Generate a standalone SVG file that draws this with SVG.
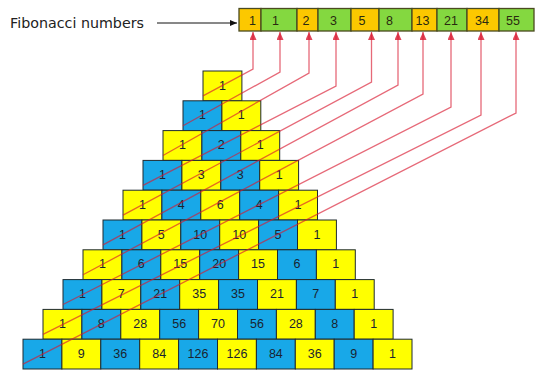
<svg xmlns="http://www.w3.org/2000/svg" width="536" height="370" viewBox="0 0 536 370">
<style>
.cell rect{stroke:#1e2a30;stroke-width:1}
.y rect{fill:#ffff00}
.b rect{fill:#18a8e8}
.cell text{font-family:"Liberation Sans",Arial,sans-serif;font-size:12.5px;fill:#1a2430;text-anchor:middle}
.fb rect{stroke:#4a4a20;stroke-width:1.3}
.o rect{fill:#fcc800}
.g rect{fill:#84d840}
.fb text{font-family:"Liberation Sans",Arial,sans-serif;font-size:12.5px;fill:#2a2a10;text-anchor:middle}
.lbl{font-family:"DejaVu Sans",sans-serif;font-size:14px;fill:#222}
.con path{fill:none;stroke:#d81830;stroke-opacity:0.65;stroke-width:1.3;marker-end:url(#ar)}
</style>
<defs>
<marker id="ar" markerUnits="userSpaceOnUse" markerWidth="8" markerHeight="7" refX="8" refY="3.5" orient="auto">
<path d="M0,0 L8,3.5 L0,7 z" fill="#d81830" fill-opacity="0.8"/>
</marker>
<marker id="ak" markerUnits="userSpaceOnUse" markerWidth="7" markerHeight="6" refX="7" refY="3" orient="auto">
<path d="M0,0 L7,3 L0,6 z" fill="#111"/>
</marker>
</defs>
<rect width="536" height="370" fill="#fff"/>
<g id="label">
<text class="lbl" x="10" y="28" textLength="134" lengthAdjust="spacingAndGlyphs">Fibonacci numbers</text>
<line x1="157" y1="23" x2="237" y2="23" stroke="#111" stroke-width="1" marker-end="url(#ak)"/>
</g>
<g id="fib-bar">
<g id="f1" class="fb o"><rect x="239" y="8.5" width="22" height="22.5"/><text x="252.5" y="25">1</text></g>
<g id="f2" class="fb g"><rect x="261" y="8.5" width="36" height="22.5"/><text x="275.5" y="25">1</text></g>
<g id="f3" class="fb o"><rect x="297" y="8.5" width="21" height="22.5"/><text x="306" y="25">2</text></g>
<g id="f4" class="fb g"><rect x="318" y="8.5" width="33" height="22.5"/><text x="333.5" y="25">3</text></g>
<g id="f5" class="fb o"><rect x="351" y="8.5" width="28" height="22.5"/><text x="362" y="25">5</text></g>
<g id="f6" class="fb g"><rect x="379" y="8.5" width="33" height="22.5"/><text x="389.5" y="25">8</text></g>
<g id="f7" class="fb o"><rect x="412" y="8.5" width="25" height="22.5"/><text x="422.5" y="25">13</text></g>
<g id="f8" class="fb g"><rect x="437" y="8.5" width="30" height="22.5"/><text x="451" y="25">21</text></g>
<g id="f9" class="fb o"><rect x="467" y="8.5" width="32" height="22.5"/><text x="482" y="25">34</text></g>
<g id="f10" class="fb g"><rect x="499" y="8.5" width="35" height="22.5"/><text x="513" y="25">55</text></g>
</g>
<g id="pyramid">
<g id="c0_0" class="cell y" transform="translate(203,71)"><rect width="38.9" height="29.8"/><text x="19.45" y="18.5">1</text></g>

<g id="c1_0" class="cell b" transform="translate(183,100.8)"><rect width="38.9" height="29.8"/><text x="19.45" y="18.5">1</text></g>
<g id="c1_1" class="cell y" transform="translate(221.9,100.8)"><rect width="38.9" height="29.8"/><text x="19.45" y="18.5">1</text></g>

<g id="c2_0" class="cell y" transform="translate(163,130.6)"><rect width="38.9" height="29.8"/><text x="19.45" y="18.5">1</text></g>
<g id="c2_1" class="cell b" transform="translate(201.9,130.6)"><rect width="38.9" height="29.8"/><text x="19.45" y="18.5">2</text></g>
<g id="c2_2" class="cell y" transform="translate(240.8,130.6)"><rect width="38.9" height="29.8"/><text x="19.45" y="18.5">1</text></g>

<g id="c3_0" class="cell b" transform="translate(143,160.4)"><rect width="38.9" height="29.8"/><text x="19.45" y="18.5">1</text></g>
<g id="c3_1" class="cell y" transform="translate(181.9,160.4)"><rect width="38.9" height="29.8"/><text x="19.45" y="18.5">3</text></g>
<g id="c3_2" class="cell b" transform="translate(220.8,160.4)"><rect width="38.9" height="29.8"/><text x="19.45" y="18.5">3</text></g>
<g id="c3_3" class="cell y" transform="translate(259.7,160.4)"><rect width="38.9" height="29.8"/><text x="19.45" y="18.5">1</text></g>

<g id="c4_0" class="cell y" transform="translate(123,190.2)"><rect width="38.9" height="29.8"/><text x="19.45" y="18.5">1</text></g>
<g id="c4_1" class="cell b" transform="translate(161.9,190.2)"><rect width="38.9" height="29.8"/><text x="19.45" y="18.5">4</text></g>
<g id="c4_2" class="cell y" transform="translate(200.8,190.2)"><rect width="38.9" height="29.8"/><text x="19.45" y="18.5">6</text></g>
<g id="c4_3" class="cell b" transform="translate(239.7,190.2)"><rect width="38.9" height="29.8"/><text x="19.45" y="18.5">4</text></g>
<g id="c4_4" class="cell y" transform="translate(278.6,190.2)"><rect width="38.9" height="29.8"/><text x="19.45" y="18.5">1</text></g>

<g id="c5_0" class="cell b" transform="translate(103,220)"><rect width="38.9" height="29.8"/><text x="19.45" y="18.5">1</text></g>
<g id="c5_1" class="cell y" transform="translate(141.9,220)"><rect width="38.9" height="29.8"/><text x="19.45" y="18.5">5</text></g>
<g id="c5_2" class="cell b" transform="translate(180.8,220)"><rect width="38.9" height="29.8"/><text x="19.45" y="18.5">10</text></g>
<g id="c5_3" class="cell y" transform="translate(219.7,220)"><rect width="38.9" height="29.8"/><text x="19.45" y="18.5">10</text></g>
<g id="c5_4" class="cell b" transform="translate(258.6,220)"><rect width="38.9" height="29.8"/><text x="19.45" y="18.5">5</text></g>
<g id="c5_5" class="cell y" transform="translate(297.5,220)"><rect width="38.9" height="29.8"/><text x="19.45" y="18.5">1</text></g>

<g id="c6_0" class="cell y" transform="translate(83,249.8)"><rect width="38.9" height="29.8"/><text x="19.45" y="18.5">1</text></g>
<g id="c6_1" class="cell b" transform="translate(121.9,249.8)"><rect width="38.9" height="29.8"/><text x="19.45" y="18.5">6</text></g>
<g id="c6_2" class="cell y" transform="translate(160.8,249.8)"><rect width="38.9" height="29.8"/><text x="19.45" y="18.5">15</text></g>
<g id="c6_3" class="cell b" transform="translate(199.7,249.8)"><rect width="38.9" height="29.8"/><text x="19.45" y="18.5">20</text></g>
<g id="c6_4" class="cell y" transform="translate(238.6,249.8)"><rect width="38.9" height="29.8"/><text x="19.45" y="18.5">15</text></g>
<g id="c6_5" class="cell b" transform="translate(277.5,249.8)"><rect width="38.9" height="29.8"/><text x="19.45" y="18.5">6</text></g>
<g id="c6_6" class="cell y" transform="translate(316.4,249.8)"><rect width="38.9" height="29.8"/><text x="19.45" y="18.5">1</text></g>

<g id="c7_0" class="cell b" transform="translate(63,279.6)"><rect width="38.9" height="29.8"/><text x="19.45" y="18.5">1</text></g>
<g id="c7_1" class="cell y" transform="translate(101.9,279.6)"><rect width="38.9" height="29.8"/><text x="19.45" y="18.5">7</text></g>
<g id="c7_2" class="cell b" transform="translate(140.8,279.6)"><rect width="38.9" height="29.8"/><text x="19.45" y="18.5">21</text></g>
<g id="c7_3" class="cell y" transform="translate(179.7,279.6)"><rect width="38.9" height="29.8"/><text x="19.45" y="18.5">35</text></g>
<g id="c7_4" class="cell b" transform="translate(218.6,279.6)"><rect width="38.9" height="29.8"/><text x="19.45" y="18.5">35</text></g>
<g id="c7_5" class="cell y" transform="translate(257.5,279.6)"><rect width="38.9" height="29.8"/><text x="19.45" y="18.5">21</text></g>
<g id="c7_6" class="cell b" transform="translate(296.4,279.6)"><rect width="38.9" height="29.8"/><text x="19.45" y="18.5">7</text></g>
<g id="c7_7" class="cell y" transform="translate(335.3,279.6)"><rect width="38.9" height="29.8"/><text x="19.45" y="18.5">1</text></g>

<g id="c8_0" class="cell y" transform="translate(43,309.4)"><rect width="38.9" height="29.8"/><text x="19.45" y="18.5">1</text></g>
<g id="c8_1" class="cell b" transform="translate(81.9,309.4)"><rect width="38.9" height="29.8"/><text x="19.45" y="18.5">8</text></g>
<g id="c8_2" class="cell y" transform="translate(120.8,309.4)"><rect width="38.9" height="29.8"/><text x="19.45" y="18.5">28</text></g>
<g id="c8_3" class="cell b" transform="translate(159.7,309.4)"><rect width="38.9" height="29.8"/><text x="19.45" y="18.5">56</text></g>
<g id="c8_4" class="cell y" transform="translate(198.6,309.4)"><rect width="38.9" height="29.8"/><text x="19.45" y="18.5">70</text></g>
<g id="c8_5" class="cell b" transform="translate(237.5,309.4)"><rect width="38.9" height="29.8"/><text x="19.45" y="18.5">56</text></g>
<g id="c8_6" class="cell y" transform="translate(276.4,309.4)"><rect width="38.9" height="29.8"/><text x="19.45" y="18.5">28</text></g>
<g id="c8_7" class="cell b" transform="translate(315.3,309.4)"><rect width="38.9" height="29.8"/><text x="19.45" y="18.5">8</text></g>
<g id="c8_8" class="cell y" transform="translate(354.2,309.4)"><rect width="38.9" height="29.8"/><text x="19.45" y="18.5">1</text></g>

<g id="c9_0" class="cell b" transform="translate(23,339.2)"><rect width="38.9" height="29.8"/><text x="19.45" y="18.5">1</text></g>
<g id="c9_1" class="cell y" transform="translate(61.9,339.2)"><rect width="38.9" height="29.8"/><text x="19.45" y="18.5">9</text></g>
<g id="c9_2" class="cell b" transform="translate(100.8,339.2)"><rect width="38.9" height="29.8"/><text x="19.45" y="18.5">36</text></g>
<g id="c9_3" class="cell y" transform="translate(139.7,339.2)"><rect width="38.9" height="29.8"/><text x="19.45" y="18.5">84</text></g>
<g id="c9_4" class="cell b" transform="translate(178.6,339.2)"><rect width="38.9" height="29.8"/><text x="19.45" y="18.5">126</text></g>
<g id="c9_5" class="cell y" transform="translate(217.5,339.2)"><rect width="38.9" height="29.8"/><text x="19.45" y="18.5">126</text></g>
<g id="c9_6" class="cell b" transform="translate(256.4,339.2)"><rect width="38.9" height="29.8"/><text x="19.45" y="18.5">84</text></g>
<g id="c9_7" class="cell y" transform="translate(295.3,339.2)"><rect width="38.9" height="29.8"/><text x="19.45" y="18.5">36</text></g>
<g id="c9_8" class="cell b" transform="translate(334.2,339.2)"><rect width="38.9" height="29.8"/><text x="19.45" y="18.5">9</text></g>
<g id="c9_9" class="cell y" transform="translate(373.1,339.2)"><rect width="38.9" height="29.8"/><text x="19.45" y="18.5">1</text></g>
</g>
<g id="connectors" class="con">
<path d="M203,95.9 L253,69 L253,32"/>
<path d="M183,125.7 L280,72 L280,32"/>
<path d="M163,155.5 L309,73 L309,32"/>
<path d="M143,185.3 L336,86 L336,32"/>
<path d="M123,215.1 L371.5,82 L371.5,32"/>
<path d="M103,244.9 L398,85 L398,32"/>
<path d="M83,274.7 L423,94 L423,32"/>
<path d="M63,304.5 L451,107 L451,32"/>
<path d="M43,334.3 L481,115 L481,32"/>
<path d="M23,364.1 L516,113 L516,32"/>
</g>
</svg>
